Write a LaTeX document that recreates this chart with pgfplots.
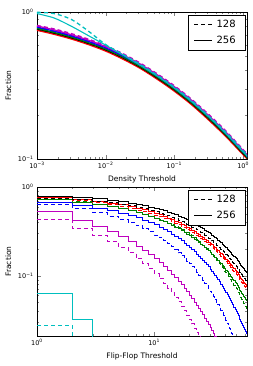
\documentclass[border=0pt]{standalone}
\usepackage{fontspec}
\setmainfont{DejaVu Sans}
\usepackage{pgfplots}
\usepackage{pgfplotstable}
\pgfplotsset{compat=1.18}

\definecolor{mc}{rgb}{0,0.75,0.75}
\definecolor{mm}{rgb}{0.75,0,0.75}
\definecolor{mg}{rgb}{0,0.5,0}
\definecolor{mb}{rgb}{0,0,1}
\definecolor{mr}{rgb}{1,0,0}
\tikzset{dsh/.style={dash pattern=on 4pt off 3pt}}

\pgfplotstableread{
x        ks    kd    rs    rd    gs    gd    bs    bd    ms    md    cs    cd
0.001    0.766 0.770 0.751 0.758 0.774 0.781 0.789 0.797 0.804 0.810 0.975 0.995
0.001778 0.719 0.723 0.705 0.712 0.726 0.733 0.741 0.748 0.755 0.767 0.910 0.975
0.003162 0.668 0.671 0.655 0.661 0.675 0.681 0.688 0.695 0.701 0.713 0.800 0.890
0.005623 0.612 0.615 0.600 0.606 0.618 0.624 0.630 0.636 0.643 0.653 0.690 0.740
0.01     0.553 0.556 0.542 0.547 0.559 0.564 0.570 0.575 0.581 0.590 0.595 0.600
0.01778  0.488 0.490 0.478 0.483 0.493 0.498 0.503 0.508 0.512 0.521 0.510 0.515
0.03162  0.422 0.424 0.414 0.418 0.426 0.430 0.435 0.439 0.443 0.450 0.435 0.441
0.05623  0.356 0.358 0.349 0.352 0.360 0.363 0.367 0.370 0.374 0.380 0.367 0.372
0.1      0.295 0.296 0.289 0.292 0.298 0.301 0.304 0.307 0.310 0.315 0.304 0.308
0.1778   0.239 0.240 0.234 0.237 0.241 0.244 0.246 0.249 0.251 0.255 0.246 0.250
0.3162   0.188 0.189 0.184 0.186 0.190 0.192 0.194 0.196 0.197 0.201 0.194 0.196
0.5623   0.145 0.146 0.142 0.144 0.146 0.148 0.149 0.151 0.152 0.155 0.149 0.152
1        0.109 0.110 0.107 0.108 0.110 0.111 0.112 0.113 0.114 0.116 0.112 0.114
1.14     0.102 0.103 0.100 0.101 0.103 0.104 0.105 0.106 0.107 0.109 0.105 0.107
1.26     0.091 0.091 0.089 0.090 0.092 0.093 0.094 0.095 0.096 0.097 0.094 0.095
}\densitydata

\pgfplotstableread{
x  ks     kd     rs     rd     gs     gd     bs     bd
1  0.791  0.746  0.769  0.738  0.714  0.724  0.670  0.631
2  0.761  0.716  0.726  0.696  0.669  0.678  0.621  0.566
3  0.734  0.689  0.690  0.661  0.632  0.639  0.580  0.515
4  0.708  0.662  0.658  0.630  0.599  0.605  0.543  0.471
5  0.684  0.637  0.628  0.601  0.569  0.574  0.509  0.433
6  0.660  0.614  0.601  0.574  0.540  0.545  0.478  0.398
7  0.638  0.591  0.575  0.549  0.514  0.518  0.449  0.366
8  0.616  0.569  0.551  0.525  0.490  0.492  0.422  0.338
9  0.595  0.548  0.528  0.503  0.467  0.469  0.397  0.312
10 0.575  0.528  0.506  0.482  0.445  0.447  0.374  0.288
11 0.556  0.509  0.485  0.462  0.424  0.428  0.352  0.267
12 0.538  0.491  0.466  0.443  0.405  0.410  0.332  0.247
13 0.520  0.473  0.447  0.425  0.387  0.393  0.313  0.229
14 0.502  0.456  0.429  0.408  0.369  0.376  0.295  0.212
15 0.486  0.440  0.412  0.392  0.353  0.362  0.278  0.197
16 0.470  0.424  0.396  0.376  0.337  0.347  0.262  0.182
17 0.454  0.409  0.381  0.361  0.322  0.333  0.248  0.169
18 0.439  0.394  0.366  0.347  0.308  0.319  0.234  0.157
19 0.425  0.380  0.352  0.333  0.295  0.306  0.221  0.146
20 0.411  0.367  0.338  0.320  0.282  0.294  0.208  0.136
21 0.398  0.354  0.325  0.308  0.270  0.282  0.197  0.127
22 0.385  0.341  0.313  0.296  0.259  0.270  0.186  0.118
23 0.372  0.329  0.301  0.285  0.248  0.257  0.176  0.110
24 0.360  0.318  0.290  0.274  0.237  0.244  0.166  0.102
25 0.348  0.307  0.279  0.264  0.227  0.232  0.157  0.0950
26 0.337  0.296  0.269  0.254  0.218  0.221  0.148  0.0884
27 0.326  0.285  0.259  0.244  0.209  0.211  0.140  0.0824
28 0.316  0.275  0.249  0.235  0.200  0.201  0.133  0.0768
29 0.306  0.265  0.240  0.226  0.192  0.192  0.126  0.0716
30 0.296  0.256  0.231  0.218  0.184  0.183  0.119  0.0668
31 0.286  0.247  0.223  0.210  0.176  0.174  0.112  0.0623
32 0.277  0.239  0.215  0.202  0.169  0.166  0.106  0.0581
33 0.268  0.230  0.207  0.194  0.162  0.158  0.1005 0.0542
34 0.260  0.222  0.199  0.187  0.155  0.150  0.0951 0.0506
35 0.251  0.214  0.192  0.180  0.149  0.143  0.0901 0.0472
36 0.243  0.207  0.185  0.174  0.143  0.137  0.0853 0.0441
37 0.235  0.200  0.178  0.167  0.137  0.131  0.0808 0.0412
38 0.228  0.193  0.172  0.161  0.132  0.125  0.0765 0.0385
39 0.221  0.186  0.166  0.155  0.126  0.119  0.0725 0.0360
40 0.214  0.180  0.160  0.150  0.121  0.113  0.0686 0.0336
41 0.207  0.174  0.154  0.144  0.116  0.108  0.0650 0.0314
42 0.200  0.168  0.149  0.139  0.112  0.104  0.0615 0.0294
43 0.194  0.162  0.144  0.134  0.107  0.099  0.0584 0.0275
44 0.188  0.157  0.139  0.130  0.103  0.094  0.0553 0.0257
45 0.182  0.151  0.134  0.125  0.0989 0.0898 0.0524 0.0241
46 0.176  0.146  0.129  0.120  0.0949 0.0857 0.0496 0.0225
47 0.170  0.141  0.124  0.116  0.0912 0.0819 0.0470 0.0211
48 0.165  0.136  0.120  0.112  0.0876 0.0782 0.0445 0.0197
49 0.160  0.131  0.116  0.108  0.0842 0.0747 0.0422 0.0184
50 0.155  0.127  0.112  0.104  0.0809 0.0713 0.0400 0.0172
51 0.150  0.122  0.108  0.100  0.0777 0.0681 0.0380 0.0161
52 0.145  0.118  0.104  0.0970 0.0746 0.0650 0.0360 0.0151
53 0.140  0.114  0.1005 0.0936 0.0717 0.0621 0.0341 0.0141
54 0.136  0.110  0.0973 0.0903 0.0689 0.0593 0.0323 0.0132
55 0.132  0.106  0.0940 0.0872 0.0663 0.0566 0.0307 0.0124
56 0.128  0.103  0.0907 0.0841 0.0637 0.0540 0.0291 0.0116
57 0.124  0.0994 0.0876 0.0812 0.0613 0.0516 0.0276 0.0109
58 0.120  0.0960 0.0846 0.0784 0.0589 0.0492 0.0261 0.0102
59 0.116  0.0927 0.0817 0.0757 0.0566 0.0470 0.0248 0.0096
60 0.112  0.0896 0.0789 0.0730 0.0544 0.0449 0.0235 0.00895
61 0.108  0.0865 0.0763 0.0705 0.0523 0.0430 0.0223 0.0084
62 0.105  0.0836 0.0737 0.0681 0.0503 0.0411 0.0212 0.00787
63 0.102  0.0807 0.0712 0.0658 0.0484 0.0393 0.0201 0.0074
64 0.0988 0.0780 0.0687 0.0635 0.0465 0.0375 0.0191 0.00692
}\flipdata

\begin{document}
\begin{tikzpicture}
\path[use as bounding box] (0,0) rectangle (252pt,366pt);

% ---------- top: density threshold ----------
\begin{axis}[
  scale only axis, width=210pt, height=147pt,
  at={(37pt,207pt)}, anchor=south west,
  xmode=log, ymode=log,
  axis line style={line width=0.5pt},
  tick align=inside, major tick length=4pt, minor tick length=2pt,
  tick label style={font=\fontsize{6.5}{7}\selectfont},
  label style={font=\fontsize{7.5}{9}\selectfont},
  legend style={at={(0.99,0.98)}, anchor=north east, draw=black,
    font=\fontsize{10}{12}\selectfont,
    inner xsep=5pt, inner ysep=3pt, row sep=3pt,
    nodes={inner xsep=4pt}, cells={anchor=west}},
  legend image code/.code={\draw[#1] (0pt,0pt) -- (18pt,0pt);},
  xmin=0.001, xmax=1.14, ymin=0.1, ymax=1,
  xtick={0.001,0.01,0.1,1},
  xticklabels={10\textsuperscript{−3},10\textsuperscript{−2},10\textsuperscript{−1},10\textsuperscript{0}},
  minor xtick={0.002,0.003,0.004,0.005,0.006,0.007,0.008,0.009,0.02,0.03,0.04,0.05,0.06,0.07,0.08,0.09,0.2,0.3,0.4,0.5,0.6,0.7,0.8,0.9},
  ytick={0.1,1},
  yticklabels={10\textsuperscript{−1},10\textsuperscript{0}},
  minor ytick={0.2,0.3,0.4,0.5,0.6,0.7,0.8,0.9},
  xlabel={Density Threshold}, ylabel={Fraction},
]
\addlegendimage{black, dsh, line width=1.2pt}\addlegendentry{128}
\addlegendimage{black, line width=1.2pt}\addlegendentry{256}
\addplot[forget plot, smooth, line width=1.3pt, mr] table[x=x,y=rs]{\densitydata};
\addplot[forget plot, smooth, line width=1.3pt, mr,dsh] table[x=x,y=rd]{\densitydata};
\addplot[forget plot, smooth, line width=1.3pt, black] table[x=x,y=ks]{\densitydata};
\addplot[forget plot, smooth, line width=1.3pt, black,dsh] table[x=x,y=kd]{\densitydata};
\addplot[forget plot, smooth, line width=1.3pt, mg] table[x=x,y=gs]{\densitydata};
\addplot[forget plot, smooth, line width=1.3pt, mg,dsh] table[x=x,y=gd]{\densitydata};
\addplot[forget plot, smooth, line width=1.3pt, mb] table[x=x,y=bs]{\densitydata};
\addplot[forget plot, smooth, line width=1.3pt, mb,dsh] table[x=x,y=bd]{\densitydata};
\addplot[forget plot, smooth, line width=1.3pt, mm] table[x=x,y=ms]{\densitydata};
\addplot[forget plot, smooth, line width=1.3pt, mm,dsh] table[x=x,y=md]{\densitydata};
\addplot[forget plot, smooth, line width=1.1pt, mc] table[x=x,y=cs]{\densitydata};
\addplot[forget plot, smooth, line width=1.3pt, mc,dsh] table[x=x,y=cd]{\densitydata};
\end{axis}

% ---------- bottom: flip-flop threshold ----------
\begin{axis}[
  scale only axis, width=210pt, height=149pt,
  at={(37pt,30pt)}, anchor=south west,
  xmode=log, ymode=log,
  axis line style={line width=0.5pt},
  tick align=inside, major tick length=4pt, minor tick length=2pt,
  tick label style={font=\fontsize{6.5}{7}\selectfont},
  label style={font=\fontsize{7.5}{9}\selectfont},
  legend style={at={(0.99,0.98)}, anchor=north east, draw=black,
    font=\fontsize{10}{12}\selectfont,
    inner xsep=5pt, inner ysep=3pt, row sep=3pt,
    nodes={inner xsep=4pt}, cells={anchor=west}},
  legend image code/.code={\draw[#1] (0pt,0pt) -- (18pt,0pt);},
  xmin=1, xmax=62, ymin=0.021, ymax=1,
  xtick={1,10},
  xticklabels={10\textsuperscript{0},10\textsuperscript{1}},
  minor xtick={2,3,4,5,6,7,8,9,20,30,40,50,60},
  ytick={0.1,1},
  yticklabels={10\textsuperscript{−1},10\textsuperscript{0}},
  minor ytick={0.03,0.04,0.05,0.06,0.07,0.08,0.09,0.2,0.3,0.4,0.5,0.6,0.7,0.8,0.9},
  xlabel={Flip-Flop Threshold}, ylabel={Fraction},
]
\addlegendimage{black, dsh, line width=1.2pt}\addlegendentry{128}
\addlegendimage{black, line width=1.2pt}\addlegendentry{256}
\addplot[forget plot, const plot, line width=1pt, mc] coordinates {(1,0.064) (2,0.0326) (3,0.01) (64,0.01)};
\addplot[forget plot, const plot, line width=1pt, mc,dsh] coordinates {(1,0.0277) (2,0.01) (64,0.01)};
\addplot[forget plot, const plot, line width=1pt, mm] coordinates {(1,0.530) (2,0.422) (3,0.360) (4,0.312) (5,0.274) (6,0.243) (7,0.216) (8,0.193) (9,0.173) (10,0.156) (11,0.140) (12,0.127) (13,0.115) (14,0.104) (15,0.0949) (16,0.0865) (17,0.0790) (18,0.0720) (19,0.0659) (20,0.0603) (21,0.0553) (22,0.0507) (23,0.0466) (24,0.0429) (25,0.0395) (26,0.0363) (27,0.0334) (28,0.0308) (29,0.0285) (30,0.0263) (31,0.0243) (32,0.0225) (33,0.0208) (34,0.0192)};
\addplot[forget plot, const plot, line width=1pt, mm,dsh] coordinates {(1,0.430) (2,0.342) (3,0.287) (4,0.244) (5,0.210) (6,0.182) (7,0.158) (8,0.138) (9,0.121) (10,0.106) (11,0.0933) (12,0.0823) (13,0.0728) (14,0.0645) (15,0.0572) (16,0.0508) (17,0.0452) (18,0.0403) (19,0.0360) (20,0.0321) (21,0.0287) (22,0.0257) (23,0.0230) (24,0.0206) (25,0.0185) (26,0.0166)};
\addplot[forget plot, const plot, line width=1pt, mb] table[x=x,y=bs]{\flipdata};
\addplot[forget plot, const plot, line width=1pt, mb,dsh] table[x=x,y=bd]{\flipdata};
\addplot[forget plot, const plot, line width=1pt, mg] table[x=x,y=gs]{\flipdata};
\addplot[forget plot, const plot, line width=1pt, mg,dsh] table[x=x,y=gd]{\flipdata};
\addplot[forget plot, const plot, line width=1pt, mr] table[x=x,y=rs]{\flipdata};
\addplot[forget plot, const plot, line width=1pt, mr,dsh] table[x=x,y=rd]{\flipdata};
\addplot[forget plot, const plot, line width=1pt, black] table[x=x,y=ks]{\flipdata};
\addplot[forget plot, const plot, line width=1pt, black,dsh] table[x=x,y=kd]{\flipdata};
\end{axis}
\end{tikzpicture}
\end{document}
